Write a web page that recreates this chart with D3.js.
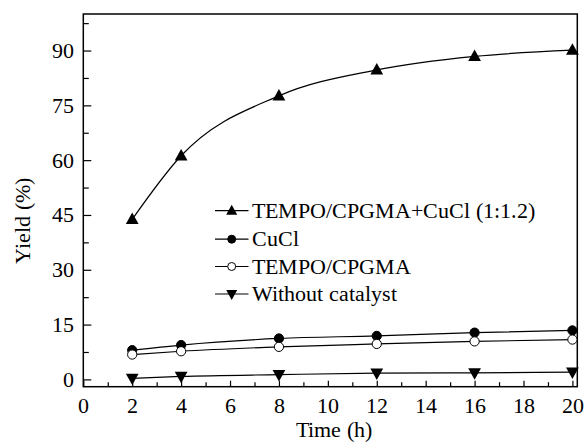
<!DOCTYPE html>
<html>
<head>
<meta charset="utf-8">
<script src="https://cdn.jsdelivr.net/npm/d3@7"></script>
<style>
  @font-face { font-family: 'ChartSerif'; src: local('Liberation Serif'), local('LiberationSerif'), local('LiberationSerif-Regular'); }
  body { margin: 0; background: #fff; }
</style>
</head>
<body>
<script>
// data
const times = [2, 4, 8, 12, 16, 20];
const seriesNames = ['TEMPO/CPGMA+CuCl (1:1.2)', 'CuCl', 'TEMPO/CPGMA', 'Without catalyst'];
const yieldTempoCuCl = [43.8, 61.2, 77.6, 84.7, 88.4, 90.1];
const yieldCuCl = [8.0, 9.4, 11.2, 11.9, 12.8, 13.4];
const yieldTempo = [6.8, 7.7, 8.9, 9.7, 10.4, 10.9];
const yieldNone = [0.3, 0.8, 1.3, 1.7, 1.8, 2.0];
const xTicks = [0, 2, 4, 6, 8, 10, 12, 14, 16, 18, 20];
const yTicks = [0, 15, 30, 45, 60, 75, 90];

const width = 584;
const height = 443;
const margin = { top: 14, right: 6.7, bottom: 56.3, left: 83.3 };
const fontSize = 21.8;
const face = '"ChartSerif"';

const svg = d3.select('body')
    .append('svg')
    .attr('width', width)
    .attr('height', height);

// set the serif face inline on each text and measure it right away
function serif(sel) {
    sel.style('font-family', face).attr('font-size', fontSize);
    sel.each(function () { this.getComputedTextLength(); });
    return sel;
}

const x = d3.scaleLinear().domain([0, 20.2]).range([margin.left, width - margin.right]);
const y = d3.scaleLinear().domain([-2, 100]).range([height - margin.bottom, margin.top]);

// minor ticks
svg.append('g')
    .attr('transform', `translate(0,${y.range()[0]})`)
    .call(d3.axisBottom(x).tickValues(d3.range(1, 20, 2)).tickSize(-4.5).tickFormat(''))
    .call(g => g.select('.domain').remove());
svg.append('g')
    .attr('transform', `translate(${x.range()[0]},0)`)
    .call(d3.axisLeft(y).tickValues(d3.range(7.5, 100, 15)).tickSize(-5.5).tickFormat(''))
    .call(g => g.select('.domain').remove());

// major ticks + labels
const xAxis = svg.append('g')
    .attr('transform', `translate(0,${y.range()[0]})`)
    .call(d3.axisBottom(x).tickValues(xTicks).tickSize(-6).tickPadding(11));
const yAxis = svg.append('g')
    .attr('transform', `translate(${x.range()[0]},0)`)
    .call(d3.axisLeft(y).tickValues(yTicks).tickSize(-8).tickPadding(9));

[xAxis, yAxis].forEach(g => {
    g.selectAll('.domain').remove();
    g.attr('font-family', null).attr('font-size', null);
    serif(g.selectAll('text').attr('fill', '#000'));
});
svg.selectAll('.tick line').attr('stroke', '#000').attr('stroke-width', 1.2);

// frame
svg.append('rect')
    .attr('x', x.range()[0])
    .attr('y', y.range()[1])
    .attr('width', x.range()[1] - x.range()[0])
    .attr('height', y.range()[0] - y.range()[1])
    .attr('fill', 'none')
    .attr('stroke', '#000')
    .attr('stroke-width', 1.5);

// axis titles
serif(svg.append('text')
    .attr('x', 334)
    .attr('y', 437)
    .attr('text-anchor', 'middle')
    .text('Time (h)'));
serif(svg.append('text')
    .attr('transform', 'translate(30,221) rotate(-90)')
    .attr('text-anchor', 'middle')
    .text('Yield (%)'));

const series = [
    { name: seriesNames[0], values: yieldTempoCuCl, shape: 'up' },
    { name: seriesNames[1], values: yieldCuCl, shape: 'dot' },
    { name: seriesNames[2], values: yieldTempo, shape: 'ring' },
    { name: seriesNames[3], values: yieldNone, shape: 'down' },
];

const line = d3.line()
    .x((d, i) => x(times[i]))
    .y(d => y(d))
    .curve(d3.curveMonotoneX);

function drawMarker(g, shape, cx, cy, s) {
    if (shape === 'up') {
        g.append('path')
            .attr('d', `M${cx},${cy - s * 0.62}L${cx + s * 0.58},${cy + s * 0.42}L${cx - s * 0.58},${cy + s * 0.42}Z`)
            .attr('fill', '#000');
    } else if (shape === 'down') {
        g.append('path')
            .attr('d', `M${cx},${cy + s * 0.62}L${cx + s * 0.58},${cy - s * 0.42}L${cx - s * 0.58},${cy - s * 0.42}Z`)
            .attr('fill', '#000');
    } else {
        g.append('circle')
            .attr('cx', cx).attr('cy', cy).attr('r', s * 0.42)
            .attr('fill', shape === 'dot' ? '#000' : '#fff')
            .attr('stroke', '#000')
            .attr('stroke-width', 1);
    }
}

series.forEach(s => {
    svg.append('path')
        .datum(s.values)
        .attr('d', line)
        .attr('fill', 'none')
        .attr('stroke', '#000')
        .attr('stroke-width', 1.2);
    const g = svg.append('g');
    s.values.forEach((v, i) => drawMarker(g, s.shape, x(times[i]), y(v), 11));
});

// legend
const legendRows = [210.7, 239.2, 266.5, 294];
series.forEach((s, i) => {
    const g = svg.append('g');
    const ly = legendRows[i];
    g.append('line')
        .attr('x1', 215).attr('x2', 248.5)
        .attr('y1', ly).attr('y2', ly)
        .attr('stroke', '#000')
        .attr('stroke-width', 1.2);
    drawMarker(g, s.shape, 231.7, ly, 9.5);
    serif(g.append('text')
        .attr('x', 251.7)
        .attr('y', ly + 7)
        .text(s.name));
});
</script>
</body>
</html>
